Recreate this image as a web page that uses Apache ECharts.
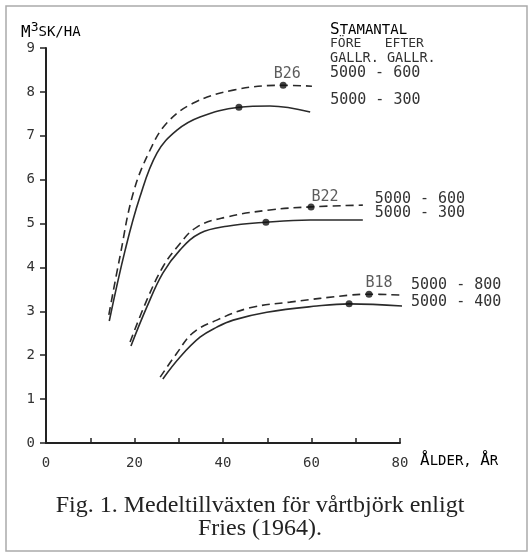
<!DOCTYPE html>
<html>
<head>
<meta charset="utf-8">
<script src="https://cdn.jsdelivr.net/npm/echarts@6/dist/echarts.min.js"></script>
<style>html,body{margin:0;padding:0;background:#fff;}#c{width:532px;height:556px;}</style>
</head>
<body>
<div id="c"></div>
<script>
// ---- data (age in years, volume m3sk/ha) ----
const b26Dashed = [[14.2,2.92],[16.7,4.24],[19.7,5.69],[23.5,6.67],[27.3,7.29],[33.2,7.74],[42.3,8.04],[53.6,8.15],[60.1,8.13]];
const b26Solid  = [[14.3,2.78],[17.9,4.40],[21.2,5.60],[25.1,6.61],[29.6,7.13],[34.8,7.43],[43.6,7.65],[50.6,7.68],[59.7,7.54]];
const b22Dashed = [[19.0,2.30],[22.8,3.26],[26.4,4.01],[29.6,4.46],[34.1,4.92],[40.9,5.15],[50.6,5.31],[59.9,5.38],[71.6,5.42]];
const b22Solid  = [[19.2,2.21],[22.8,3.10],[26.4,3.87],[30.3,4.40],[34.8,4.78],[40.9,4.94],[49.7,5.03],[59.7,5.08],[71.6,5.08]];
const b18Dashed = [[25.8,1.50],[29.6,2.05],[33.2,2.51],[38.6,2.80],[46.1,3.08],[55.1,3.21],[68.7,3.37],[73.0,3.39],[80.5,3.37]];
const b18Solid  = [[26.4,1.46],[30.3,1.96],[34.8,2.41],[38.6,2.64],[42.3,2.80],[49.9,2.98],[61.2,3.12],[68.5,3.17],[80.5,3.12]];
const markedDashed = [[53.6,8.15],[59.9,5.38],[73.0,3.39]];
const markedSolid  = [[43.6,7.65],[49.7,5.03],[68.5,3.17]];
const siteNames = ['B26','B22','B18'];
const thinningLabels = ['5000 - 600','5000 - 300','5000 - 600','5000 - 300','5000 - 800','5000 - 400'];
const xTicks = [0,20,40,60,80];
const yTicks = [0,1,2,3,4,5,6,7,8,9];

const ink = '#2a2a2a';
const mono = '"DejaVu Sans Mono", monospace';

function curve(data, dashed, text, off) {
  return {
    type: 'line', data: data, smooth: 0.4, showSymbol: false, clip: false,
    lineStyle: { color: ink, width: 1.6, type: dashed ? [8,5] : 'solid' },
    endLabel: { show: true, formatter: text, distance: 0, offset: off, align: 'left', verticalAlign: 'middle',
      fontFamily: mono, fontSize: 15, color: '#333' },
    silent: true, z: 3
  };
}
const labelOffsets = [[18,-13],[20,-12],[12,-6],[12,-7],[9,-10],[9,-4]];
const curves = [b26Dashed,b26Solid,b22Dashed,b22Solid,b18Dashed,b18Solid];
const series = curves.map((d,i)=>curve(d, i%2===0, thinningLabels[i], labelOffsets[i]));
const nameOffsets = [[4,0],[14,1],[10,0]];
series.push({
  type: 'scatter', symbol: 'circle', symbolSize: 7, itemStyle: { color: '#111' }, z: 5,
  data: markedDashed.map((p,i)=>({ value: p, label: { show: true, formatter: siteNames[i], position: 'top', distance: 0, offset: nameOffsets[i],
    fontFamily: mono, fontSize: 15, color: '#333' } }))
});
series.push({
  type: 'scatter', symbol: 'circle', symbolSize: 7, itemStyle: { color: '#111' }, z: 5,
  data: markedSolid
});

const chart = echarts.init(document.getElementById('c'), null, { renderer: 'canvas' });
const small = { fontFamily: mono, fontSize: 14, color: '#333' };
const big = { fontFamily: mono, fontSize: 16, color: '#333' };
chart.setOption({
  animation: false,
  backgroundColor: '#fff',
  grid: { left: 46, right: 132, top: 48, bottom: 113 },
  xAxis: {
    type: 'value', min: 0, max: 80, interval: 10,
    axisLine: { lineStyle: { color: '#222', width: 2 } },
    axisTick: { inside: true, length: 5, lineStyle: { color: '#222', width: 1.5 } },
    splitLine: { show: false },
    axisLabel: { margin: 13, fontFamily: mono, fontSize: 14, color: '#333',
      formatter: v => xTicks.indexOf(v) >= 0 ? String(v) : '' }
  },
  yAxis: {
    type: 'value', min: 0, max: 9, interval: 1,
    axisLine: { show: true, lineStyle: { color: '#222', width: 2 } },
    axisTick: { show: true, length: 6, lineStyle: { color: '#222', width: 1.5 } },
    splitLine: { show: false },
    axisLabel: { margin: 11, fontFamily: mono, fontSize: 14, color: '#333',
      formatter: v => yTicks.indexOf(v) >= 0 ? String(v) : '' }
  },
  series: series,
  graphic: [
    { type: 'rect', shape: { x: 6, y: 6, width: 521, height: 545 }, style: { fill: 'none', stroke: '#aaa', lineWidth: 1.5 }, silent: true },
    { type: 'text', left: 21, top: 21, style: { text: '{a|M}{s|3}{b|SK/HA}', rich: { a: big, s: { fontFamily: mono, fontSize: 13, color: '#333', padding: [0,0,10,0] }, b: small } } },
    { type: 'text', left: 330, top: 22, style: { text: '{a|S}{b|TAMANTAL}', rich: { a: big, b: small } } },
    { type: 'text', left: 330, top: 37, style: { text: 'FÖRE   EFTER', font: '13px "DejaVu Sans Mono"', fill: '#333' } },
    { type: 'text', left: 330, top: 51, style: { text: 'GALLR. GALLR.', font: '13.5px "DejaVu Sans Mono"', fill: '#333' } },
    { type: 'text', left: 420, top: 453, style: { text: '{a|Å}{b|LDER, }{a|Å}{b|R}', rich: { a: big, b: small } } },
    { type: 'text', x: 260, y: 494, style: { text: 'Fig. 1. Medeltillväxten för vårtbjörk enligt\nFries (1964).', align: 'center', verticalAlign: 'top',
      font: '24px "Liberation Serif"', fill: '#222', lineHeight: 23 } }
  ]
});
</script>
</body>
</html>
